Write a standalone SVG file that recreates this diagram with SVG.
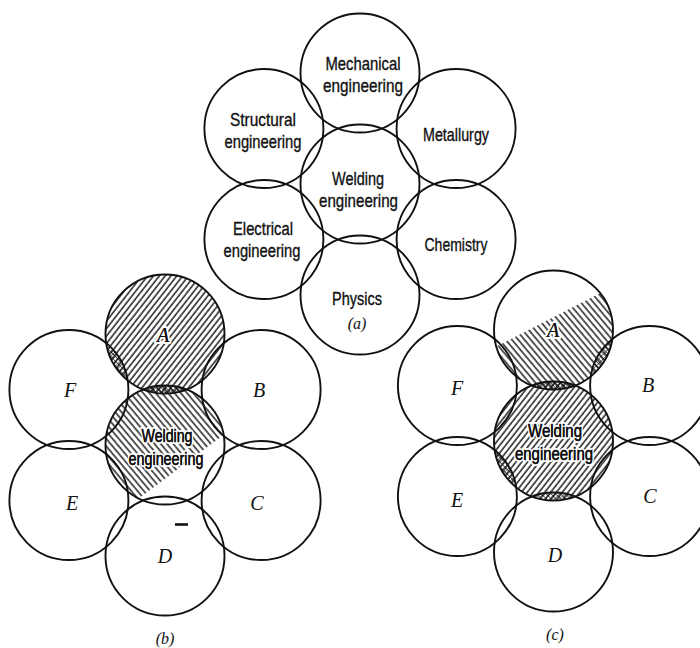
<svg xmlns="http://www.w3.org/2000/svg" width="700" height="648" viewBox="0 0 700 648">
<style>
.c{fill:none;stroke:#111;stroke-width:1.9}
.t{font-family:"Liberation Sans",Arial,sans-serif;font-size:18.5px;fill:#111;stroke:#111;stroke-width:0.35;text-anchor:middle}
.h{stroke:#fff;stroke-width:4;paint-order:stroke;stroke-linejoin:round}
.l{font-family:"Liberation Serif","Times New Roman",serif;font-style:italic;font-size:20px;fill:#111;text-anchor:middle}
.cap{font-family:"Liberation Serif","Times New Roman",serif;font-style:italic;font-size:16px;fill:#111;text-anchor:middle}
</style>
<defs>
<pattern id="hs" width="4.6" height="4.6" patternUnits="userSpaceOnUse" patternTransform="rotate(38)"><line x1="1" y1="0" x2="1" y2="4.6" stroke="#111" stroke-width="1.4"/></pattern>
<pattern id="hb" width="4.8" height="4.8" patternUnits="userSpaceOnUse" patternTransform="rotate(-40)"><line x1="1" y1="0" x2="1" y2="4.8" stroke="#111" stroke-width="1.4"/></pattern>
<pattern id="hx" width="3.4" height="3.4" patternUnits="userSpaceOnUse" patternTransform="rotate(45)"><path d="M0,0V3.4M0,0H3.4" stroke="#111" stroke-width="1.1"/></pattern>
<clipPath id="bA"><circle cx="165" cy="334" r="59.5"/></clipPath>
<clipPath id="bW"><circle cx="165" cy="445" r="59.5"/></clipPath>
<clipPath id="bF"><circle cx="68.9" cy="389.5" r="59.5"/></clipPath>
<clipPath id="cA"><circle cx="553.5" cy="330" r="59.5"/></clipPath>
<clipPath id="cW"><circle cx="553.5" cy="441" r="59.5"/></clipPath>
<clipPath id="cB"><circle cx="649.6" cy="385.5" r="59.5"/></clipPath>
<clipPath id="cE"><circle cx="457.4" cy="496.5" r="59.5"/></clipPath>
<clipPath id="cD"><circle cx="553.5" cy="552" r="59.5"/></clipPath>
</defs>
<rect width="700" height="648" fill="#fff"/>

<!-- (a) -->
<g id="a-mechanical"><circle class="c" cx="360" cy="73" r="59.5"/><text class="t" x="363" y="70" textLength="75" lengthAdjust="spacingAndGlyphs">Mechanical</text><text class="t" x="363" y="92" textLength="80" lengthAdjust="spacingAndGlyphs">engineering</text></g>
<g id="a-structural"><circle class="c" cx="263.9" cy="128.5" r="59.5"/><text class="t" x="263" y="126" textLength="66" lengthAdjust="spacingAndGlyphs">Structural</text><text class="t" x="263" y="148" textLength="77" lengthAdjust="spacingAndGlyphs">engineering</text></g>
<g id="a-metallurgy"><circle class="c" cx="456.1" cy="128.5" r="59.5"/><text class="t" x="456" y="141" textLength="66" lengthAdjust="spacingAndGlyphs">Metallurgy</text></g>
<g id="a-welding"><circle class="c" cx="360" cy="184" r="59.5"/><text class="t" x="358" y="185" textLength="52" lengthAdjust="spacingAndGlyphs">Welding</text><text class="t" x="358.5" y="207" textLength="79" lengthAdjust="spacingAndGlyphs">engineering</text></g>
<g id="a-electrical"><circle class="c" cx="263.9" cy="239.5" r="59.5"/><text class="t" x="263" y="235" textLength="60" lengthAdjust="spacingAndGlyphs">Electrical</text><text class="t" x="262" y="257" textLength="77" lengthAdjust="spacingAndGlyphs">engineering</text></g>
<g id="a-chemistry"><circle class="c" cx="456.1" cy="239.5" r="59.5"/><text class="t" x="456" y="251" textLength="63" lengthAdjust="spacingAndGlyphs">Chemistry</text></g>
<g id="a-physics"><circle class="c" cx="360" cy="295" r="59.5"/><text class="t" x="357" y="305" textLength="50" lengthAdjust="spacingAndGlyphs">Physics</text></g>
<text class="cap" x="357" y="329">(a)</text>

<!-- (b) -->
<g id="b-A">
<rect x="100" y="270" width="130" height="130" fill="url(#hs)" clip-path="url(#bA)"/>
<g clip-path="url(#bA)"><rect x="100" y="370" width="130" height="40" fill="url(#hx)" clip-path="url(#bW)"/></g>
<g clip-path="url(#bA)"><rect x="100" y="340" width="40" height="60" fill="url(#hx)" clip-path="url(#bF)"/></g>
<circle class="c" cx="165" cy="334" r="59.5"/><text class="l h" x="163" y="342">A</text><text class="l" x="163" y="342">A</text></g>
<g id="b-B"><circle class="c" cx="261.1" cy="389.5" r="59.5"/><text class="l" x="259" y="397">B</text></g>
<g id="b-C"><circle class="c" cx="261.1" cy="500.5" r="59.5"/><text class="l" x="257" y="510">C</text></g>
<g id="b-D"><circle class="c" cx="165" cy="556" r="59.5"/><text class="l" x="165" y="563">D</text></g>
<g id="b-E"><circle class="c" cx="68.9" cy="500.5" r="59.5"/><text class="l" x="72" y="510">E</text></g>
<g id="b-F"><circle class="c" cx="68.9" cy="389.5" r="59.5"/><text class="l" x="70" y="397">F</text></g>
<g id="b-welding">
<polygon points="100,380 230,380 230,430 130,505 100,505" fill="url(#hb)" clip-path="url(#bW)"/>
<circle class="c" cx="165" cy="445" r="59.5"/>
<text class="t h" x="167" y="442" textLength="51" lengthAdjust="spacingAndGlyphs">Welding</text><text class="t" x="167" y="442" textLength="51" lengthAdjust="spacingAndGlyphs">Welding</text>
<text class="t h" x="166" y="465" textLength="75" lengthAdjust="spacingAndGlyphs">engineering</text><text class="t" x="166" y="465" textLength="75" lengthAdjust="spacingAndGlyphs">engineering</text>
</g>
<line x1="175" y1="524.5" x2="188" y2="524.5" stroke="#111" stroke-width="2.6"/>
<text class="cap" x="165" y="644">(b)</text>

<!-- (c) -->
<g id="c-A">
<polygon points="480,355 620,283 620,400 480,400" fill="url(#hb)" clip-path="url(#cA)"/>
<g clip-path="url(#cA)"><rect x="580" y="320" width="40" height="80" fill="url(#hx)" clip-path="url(#cB)"/></g>
<g clip-path="url(#cA)"><rect x="500" y="370" width="110" height="30" fill="url(#hx)" clip-path="url(#cW)"/></g>
<circle class="c" cx="553.5" cy="330" r="59.5"/><text class="l h" x="553" y="337">A</text><text class="l" x="553" y="337">A</text></g>
<g id="c-B"><circle class="c" cx="649.6" cy="385.5" r="59.5"/><text class="l" x="648" y="392">B</text></g>
<g id="c-C"><circle class="c" cx="649.6" cy="496.5" r="59.5"/><text class="l" x="650" y="503">C</text></g>
<g id="c-D"><circle class="c" cx="553.5" cy="552" r="59.5"/><text class="l" x="555" y="562">D</text></g>
<g id="c-E"><circle class="c" cx="457.4" cy="496.5" r="59.5"/><text class="l" x="457" y="507">E</text></g>
<g id="c-F"><circle class="c" cx="457.4" cy="385.5" r="59.5"/><text class="l" x="457" y="395">F</text></g>
<g id="c-welding">
<rect x="490" y="380" width="130" height="125" fill="url(#hs)" clip-path="url(#cW)"/>
<g clip-path="url(#cW)"><rect x="490" y="440" width="40" height="70" fill="url(#hx)" clip-path="url(#cE)"/></g>
<g clip-path="url(#cW)"><rect x="500" y="480" width="110" height="25" fill="url(#hx)" clip-path="url(#cD)"/></g>
<circle class="c" cx="553.5" cy="441" r="59.5"/>
<text class="t h" x="555" y="437" textLength="54" lengthAdjust="spacingAndGlyphs">Welding</text><text class="t" x="555" y="437" textLength="54" lengthAdjust="spacingAndGlyphs">Welding</text>
<text class="t h" x="554" y="460" textLength="78" lengthAdjust="spacingAndGlyphs">engineering</text><text class="t" x="554" y="460" textLength="78" lengthAdjust="spacingAndGlyphs">engineering</text>
</g>
<text class="cap" x="555" y="640">(c)</text>
<g id="connectors"/>
</svg>
